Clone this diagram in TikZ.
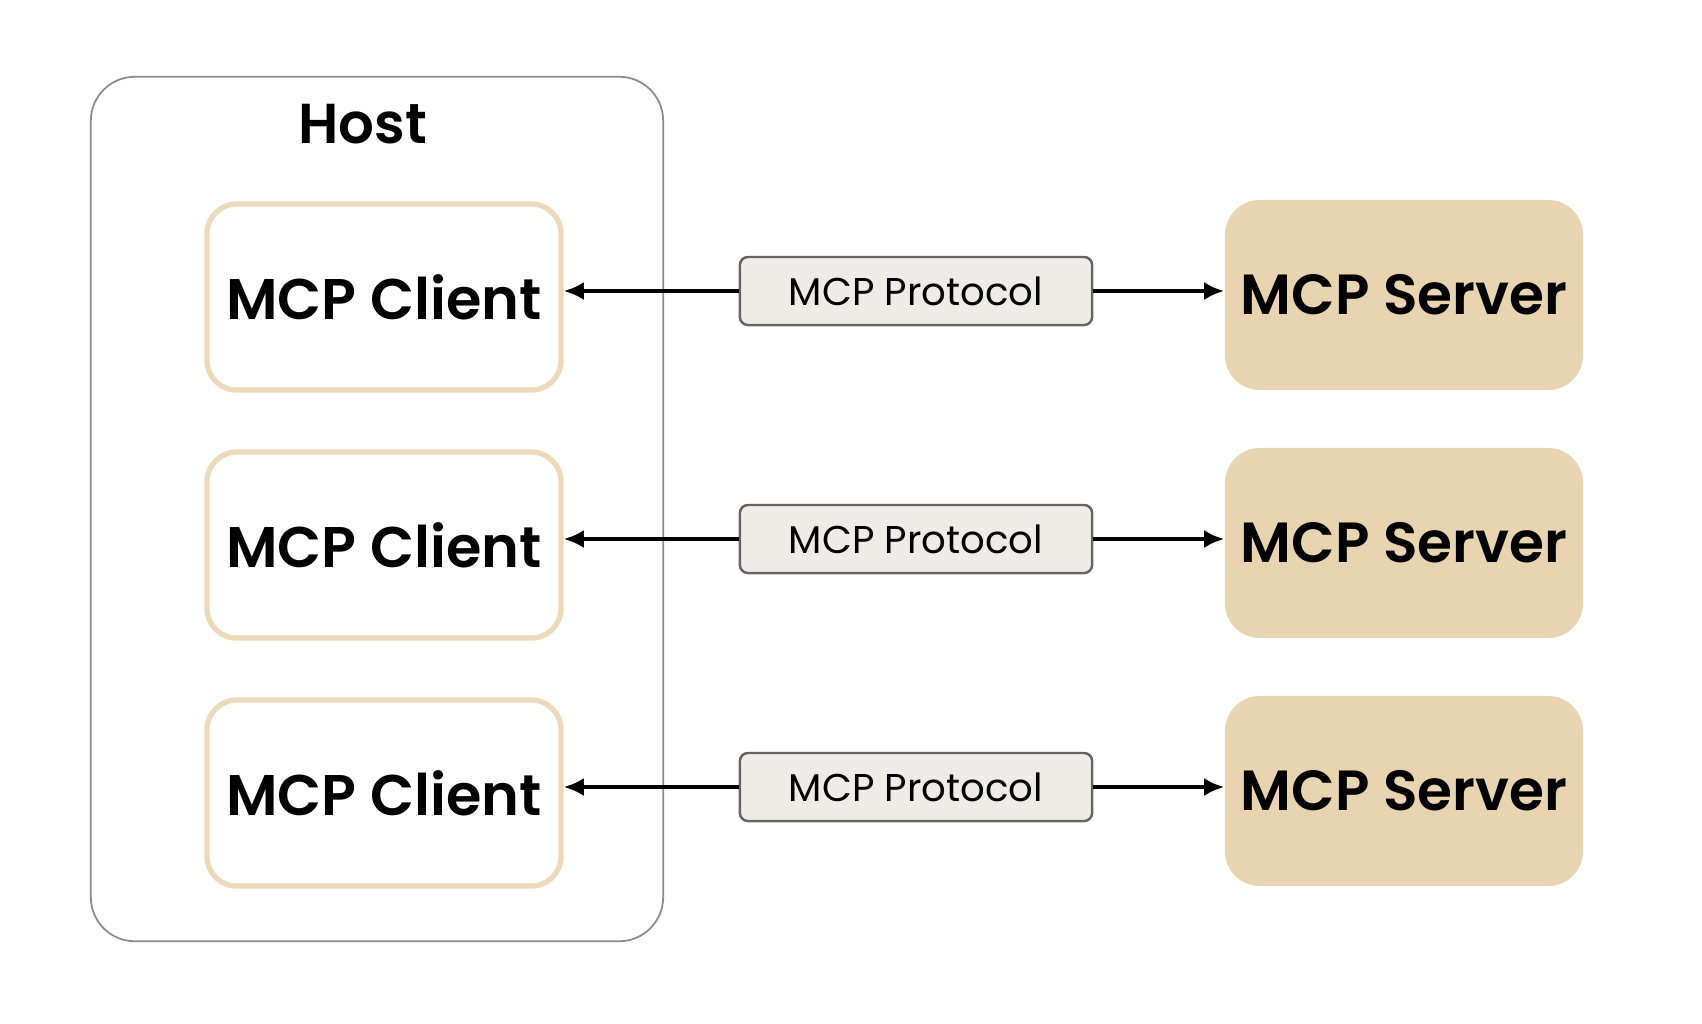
\documentclass[tikz,border=0pt]{standalone}
\usepackage{fontspec}
\setmainfont{Poppins}[BoldFont={Poppins SemiBold}]
\usetikzlibrary{arrows.meta}
\definecolor{tanline}{HTML}{ECDABA}
\definecolor{tanfill}{HTML}{E8D4B0}
\definecolor{protofill}{HTML}{EDECE7}
\definecolor{protoline}{HTML}{666666}
\definecolor{hostline}{HTML}{8C8C8C}
\tikzset{
  hostbox/.style={draw=hostline, line width=0.5pt, rounded corners=0.44cm,
                  minimum width=5.72cm, minimum height=8.64cm},
  clientbox/.style={draw=tanline, line width=1.5pt, rounded corners=0.3cm, fill=white,
                    minimum width=3.54cm, minimum height=1.86cm,
                    font=\fontsize{16.3}{20}\selectfont\bfseries},
  serverbox/.style={fill=tanfill, rounded corners=0.35cm,
                    minimum width=3.58cm, minimum height=1.9cm,
                    font=\fontsize{16.1}{20}\selectfont\bfseries},
  protobox/.style={draw=protoline, line width=0.7pt, fill=protofill, rounded corners=0.08cm,
                   minimum width=3.52cm, minimum height=0.68cm,
                   font=\fontsize{11}{13}\selectfont},
  link/.style={line width=1.1pt, -{Latex[length=0.2cm,width=0.18cm]}}
}
\begin{document}
\begin{tikzpicture}[x=0.01cm, y=-0.01cm]
\def\ys{248} % distance between rows
\useasboundingbox (0,0) rectangle (1702,1023);

% the host around the clients
\node[hostbox] (host) at (377,509) {};
\node[font=\fontsize{16}{20}\selectfont\bfseries] (hostlabel) at (363,124) {Host};

% first row
\node[clientbox] (client1) at (384,297) {MCP Client};
\node[protobox] (proto1) at (916,291) {MCP Protocol};
\node[serverbox] (server1) at (1404,295) {MCP Server};

% second row
\node[clientbox] (client2) at (384,297+\ys) {MCP Client};
\node[protobox] (proto2) at (916,291+\ys) {MCP Protocol};
\node[serverbox] (server2) at (1404,295+\ys) {MCP Server};

% third row
\node[clientbox] (client3) at (384,297+2*\ys) {MCP Client};
\node[protobox] (proto3) at (916,291+2*\ys) {MCP Protocol};
\node[serverbox] (server3) at (1404,295+2*\ys) {MCP Server};

\draw[link] (proto1.west) -- (proto1.west -| client1.east);
\draw[link] (proto1.east) -- (proto1.east -| server1.west);
\draw[link] (proto2.west) -- (proto2.west -| client2.east);
\draw[link] (proto2.east) -- (proto2.east -| server2.west);
\draw[link] (proto3.west) -- (proto3.west -| client3.east);
\draw[link] (proto3.east) -- (proto3.east -| server3.west);

\end{tikzpicture}
\end{document}
